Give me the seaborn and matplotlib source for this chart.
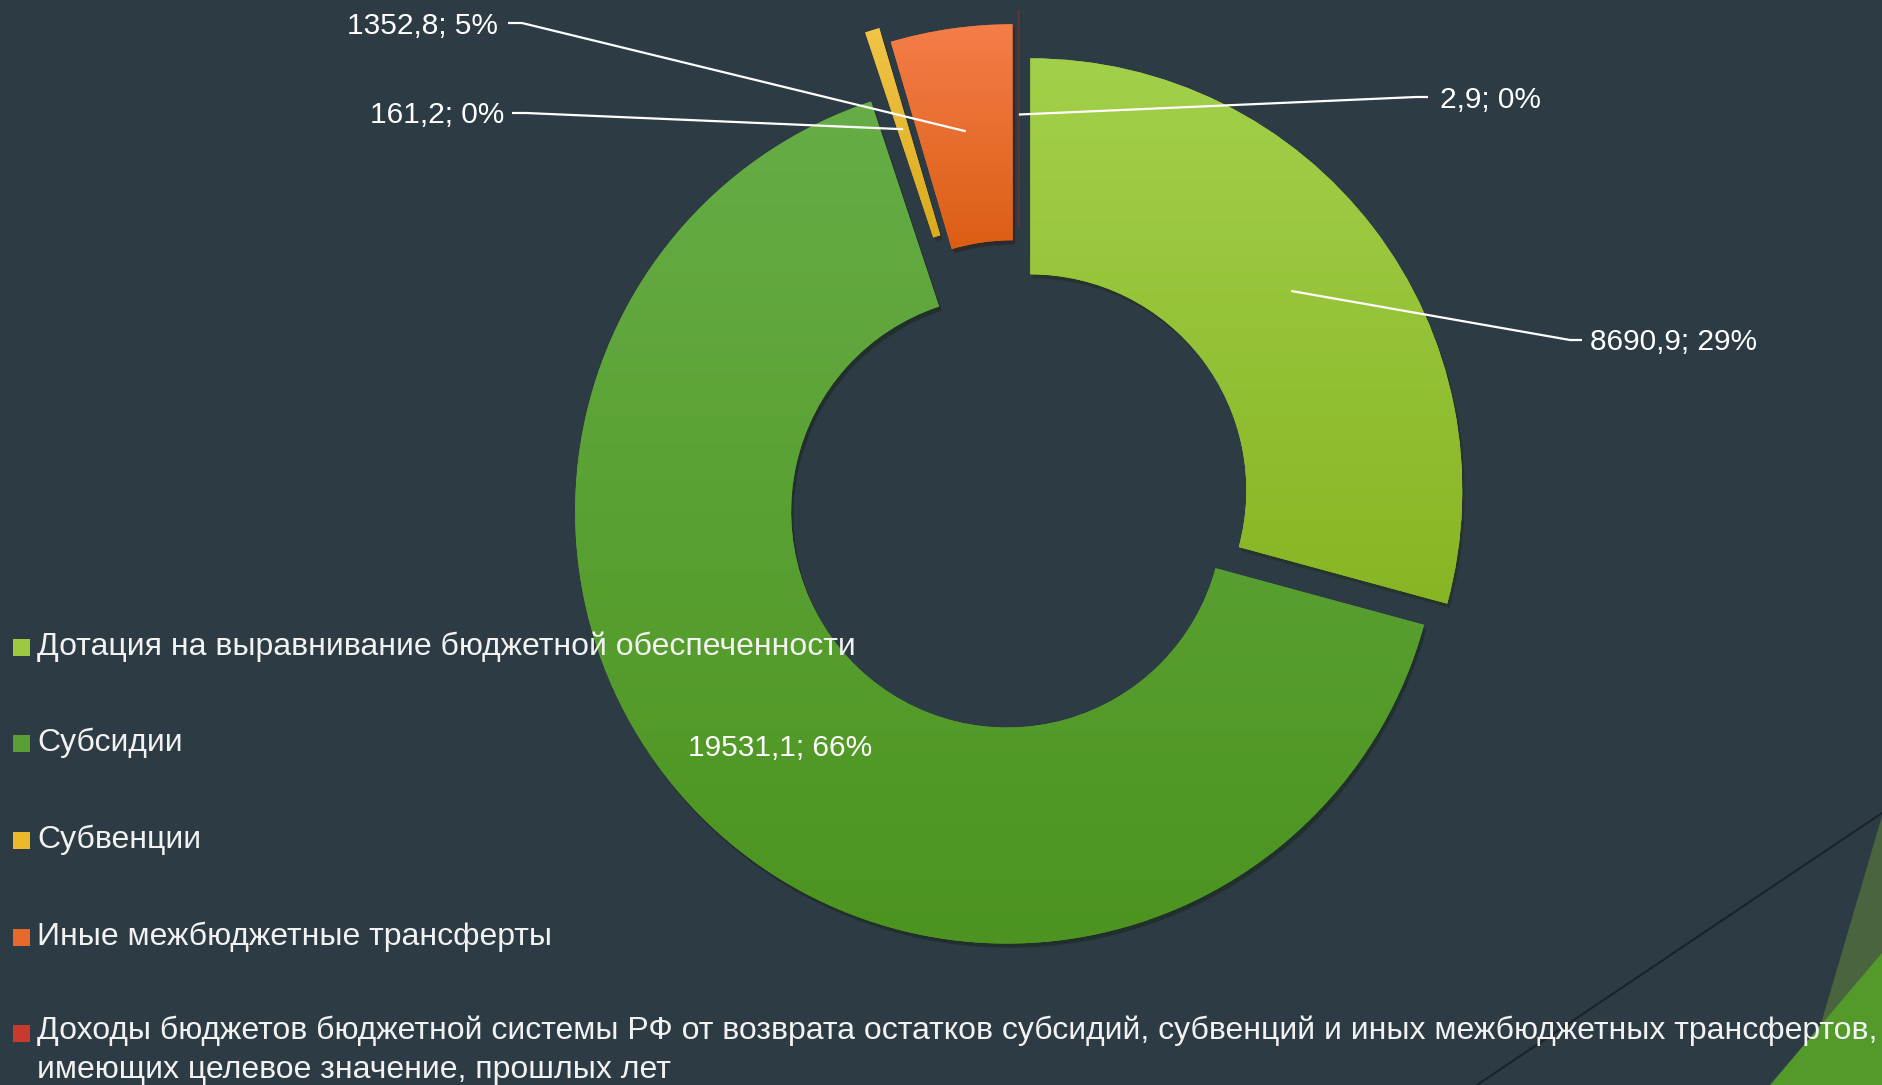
import numpy as np
import matplotlib
matplotlib.use("Agg")
import matplotlib.pyplot as plt
import seaborn as sns
from matplotlib.patches import Rectangle, Polygon
from matplotlib.lines import Line2D
from matplotlib.colors import LinearSegmentedColormap

# ---------------- data ----------------
categories = [
    "Дотация на выравнивание бюджетной обеспеченности",
    "Субсидии",
    "Субвенции",
    "Иные межбюджетные трансферты",
    "Доходы бюджетов бюджетной системы РФ от возврата остатков субсидий, субвенций и иных межбюджетных трансфертов,\nимеющих целевое значение, прошлых лет",
]
values = [8690.9, 19531.1, 161.2, 1352.8, 2.9]
value_labels = ["8690,9", "19531,1", "161,2", "1352,8", "2,9"]
percent_labels = ["29%", "66%", "0%", "5%", "0%"]

# ---------------- style ----------------
sns.set_theme(style="white")
plt.rcParams["font.family"] = ["Liberation Sans", "DejaVu Sans"]

legend_colors = ["#9cc93f", "#5a9f33", "#eab92c", "#e8692c", "#c8392e"]
grad_top = ["#a3d04a", "#67ad47", "#f2c447", "#f47d49", "#7a3a3a"]
grad_bot = ["#87b524", "#4c941f", "#dbab1c", "#dc5e14", "#7a3a3a"]
explode = [0.033, 0.04, 0.137, 0.1, 0.13]
bg = "#2c3b44"

W, H = 1882, 1085
fig = plt.figure(figsize=(W / 100, H / 100), dpi=100)
fig.patch.set_facecolor(bg)
ax = fig.add_axes([0, 0, 1, 1])
ax.set_facecolor(bg)

CX, CY, S = 1019, 499, 432  # pie centre (px from top-left) and radius in px


def to_data(px, py):
    return (px - CX) / S, (CY - py) / S


# ---------------- decorative background shapes ----------------
def fig_poly(pts, **kw):
    fig.add_artist(Polygon([(x / W, 1 - y / H) for x, y in pts], closed=True,
                           transform=fig.transFigure, **kw))


fig_poly([(1882, 816), (1803, 1085), (1882, 1085)], facecolor="#4a6440", edgecolor="none", zorder=0)
fig_poly([(1770, 1085), (1882, 953), (1882, 1085)], facecolor="#539a2b", edgecolor="none", zorder=0)
fig.add_artist(Line2D([1477 / W, 1882 / W], [0, 1 - 813 / H], transform=fig.transFigure,
                      color="#1c2328", lw=1.5, zorder=0))

# ---------------- donut ----------------
wedges, _ = ax.pie(
    values,
    colors=legend_colors,
    startangle=90,
    counterclock=False,
    explode=explode,
    radius=1.0,
    wedgeprops=dict(width=0.5, edgecolor="none", linewidth=0),
    shadow=dict(ox=0.004, oy=-0.007, shade=0.8, alpha=0.4),
)
wedges[4].set_edgecolor("#5b3438")
wedges[4].set_linewidth(1.5)

grad = np.linspace(0, 1, 256).reshape(-1, 1)
for i, w in enumerate(wedges[:4]):
    ext = w.get_path().get_extents()
    cmap = LinearSegmentedColormap.from_list(f"g{i}", [grad_top[i], grad_bot[i]])
    im = ax.imshow(grad, cmap=cmap, extent=(ext.x0, ext.x1, ext.y0, ext.y1),
                   origin="upper", aspect="auto", interpolation="bilinear",
                   zorder=w.get_zorder() + 0.05)
    im.set_clip_path(w)

# ---------------- data labels ----------------
label_font = 21.5


def leader_start(i, r=0.76):
    w = wedges[i]
    th = np.deg2rad((w.theta1 + w.theta2) / 2)
    cx, cy = w.center
    return cx + r * np.cos(th), cy + r * np.sin(th)


label_layout = {
    0: dict(text=(1590, 342), ha="left", elbow=[(1570, 340), (1582, 340)]),
    2: dict(text=(504, 115), ha="right", elbow=[(526, 113), (512, 113)]),
    3: dict(text=(498, 26), ha="right", elbow=[(522, 23), (508, 23)]),
    4: dict(text=(1440, 100), ha="left", elbow=[(1416, 97), (1428, 97)]),
}
for i, lay in label_layout.items():
    sx, sy = leader_start(i)
    pts = [(sx, sy)] + [to_data(*p) for p in lay["elbow"]]
    ax.plot([p[0] for p in pts], [p[1] for p in pts], color="white", lw=1.6,
            zorder=10, solid_capstyle="butt")
    tx, ty = to_data(*lay["text"])
    ax.text(tx, ty, f"{value_labels[i]}; {percent_labels[i]}", color="white",
            fontsize=label_font, ha=lay["ha"], va="center", zorder=11)

tx, ty = to_data(780, 748)
ax.text(tx, ty, f"{value_labels[1]}; {percent_labels[1]}", color="white",
        fontsize=label_font, ha="center", va="center", zorder=11)

# ---------------- legend ----------------
rows = [647, 743, 840, 937, 1033]
msize = 17
legend_font = 23
for i, (cat, y) in enumerate(zip(categories, rows)):
    fig.add_artist(Rectangle((13 / W, 1 - (y + msize / 2) / H), msize / W, msize / H,
                             transform=fig.transFigure, facecolor=legend_colors[i],
                             edgecolor="none"))
    if "\n" in cat:
        fig.text(37 / W, 1 - (y - 17) / H, cat, color="#f2f2f2", fontsize=legend_font,
                 ha="left", va="top", linespacing=1.38)
    else:
        fig.text(37 / W, 1 - y / H, cat, color="#f2f2f2", fontsize=legend_font,
                 ha="left", va="center")

ax.set_aspect("auto")
ax.set_xlim(-CX / S, (W - CX) / S)
ax.set_ylim(-(H - CY) / S, CY / S)
ax.axis("off")

fig.savefig("out.png", dpi=100, facecolor=bg)
